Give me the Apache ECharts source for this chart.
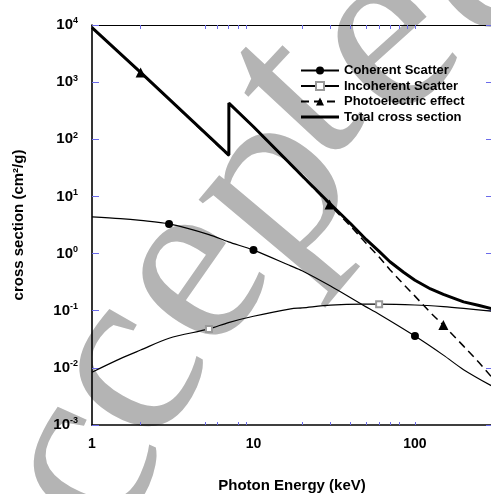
<!DOCTYPE html>
<html>
<head>
<meta charset="utf-8">
<title>Photon cross sections</title>
<style>
  html, body { margin: 0; padding: 0; background: #fff; }
  #chart { width: 491px; height: 494px; }
</style>
</head>
<body>
<div id="chart"></div>
<script src="https://cdn.jsdelivr.net/npm/echarts@6/dist/echarts.min.js"></script>
<script>
// photon energy (keV) for total / photoelectric curves, K-edge listed twice
const energyTotal = [1, 2, 7.04, 7.04, 10, 20, 29.6, 40, 50, 60, 70, 85, 100, 125, 150, 200, 250, 300];
const totalValues = [8970, 1480, 53, 430, 166, 23, 7.6, 3.33, 1.75, 1.09, 0.72, 0.47, 0.342, 0.24, 0.193, 0.143, 0.123, 0.108];
const photoValues = [8965, 1477, 51, 428, 164, 22.4, 7.2, 3.0, 1.5, 0.87, 0.52, 0.29, 0.18, 0.092, 0.056, 0.024, 0.0123, 0.0068];

// photon energy (keV) for the two scatter curves
const energyScatter = [1, 1.5, 2, 3, 5.3, 7, 10, 17, 20, 30, 47.5, 60, 100, 150, 200, 300];
const coherentValues = [4.4, 4.1, 3.8, 3.3, 2.15, 1.6, 1.15, 0.61, 0.5, 0.27, 0.126, 0.087, 0.036, 0.0167, 0.0093, 0.0048];
const incoherentValues = [0.0084, 0.0145, 0.0205, 0.033, 0.048, 0.062, 0.08, 0.108, 0.112, 0.125, 0.13, 0.13, 0.126, 0.118, 0.11, 0.098];

// energies where a marker is drawn
const coherentMarkers = [3, 10, 100];
const incoherentMarkers = [5.3, 60];
const photoMarkers = [2, 29.6, 150];

// tick labels / tick positions
const xLabelValues = [1, 10, 100];
const xBottomTicks = [2, 5, 6, 8, 9, 20, 30, 40, 50, 60, 70, 80, 100];
const xTopTicks = [2, 5, 6, 7, 8, 9, 20, 30, 40, 50, 60, 70, 80, 90, 100];
const yDecades = [0.001, 0.01, 0.1, 1, 10, 100, 1000, 10000];

const font = 'Liberation Sans, Arial, sans-serif';
const tickColor = '#6b6bea';

function withMarkers(xs, ys, marks) {
  return xs.map((e, i) => ({
    value: [e, ys[i]],
    symbol: marks.includes(e) ? undefined : 'none'
  }));
}

// watermark letters (background decoration)
const stamp = [
  ['c', 108, 478, 66],
  ['c', 152, 385, 60],
  ['e', 215, 292, 55],
  ['p', 293, 205, 50],
  ['t', 318, 118, 47],
  ['e', 405, 62, 42],
  ['d', 500, -20, 38]
];
function stampLetters() {
  return stamp.map(([ch, cx, cy, deg]) => {
    const r = deg * Math.PI / 180;
    return {
      type: 'text',
      z: -10,
      x: cx - 27 * Math.sin(r),
      y: cy - 27 * Math.cos(r),
      rotation: r,
      silent: true,
      style: {
        text: ch,
        font: '248px "Liberation Serif", serif',
        fill: '#b4b4b4',
        align: 'center',
        verticalAlign: 'middle'
      }
    };
  });
}

const chart = echarts.init(document.getElementById('chart'));

const option = {
  animation: false,
  backgroundColor: '#fff',
  graphic: stampLetters(),
  grid: { left: 92, right: -1, top: 25, bottom: 69, containLabel: false, outerBoundsMode: 'none' },
  legend: {
    orient: 'vertical',
    left: 300,
    top: 64,
    padding: 0,
    itemWidth: 38,
    itemHeight: 10,
    itemGap: 2.5,
    textStyle: { fontFamily: font, fontWeight: 'bold', fontSize: 13, color: '#000' },
    data: [
      'Coherent Scatter',
      'Incoherent Scatter',
      'Photoelectric effect',
      { name: 'Total cross section', icon: 'path://M0,0H40V3H0Z' }
    ]
  },
  xAxis: [
    {
      type: 'log', logBase: 10, min: 1, max: 300,
      name: 'Photon Energy (keV)', nameLocation: 'middle', nameGap: 53,
      nameTextStyle: { fontFamily: font, fontWeight: 'bold', fontSize: 15, color: '#000' },
      axisLine: { lineStyle: { color: '#000', width: 1.6 } },
      axisTick: { inside: true, length: 3, customValues: xBottomTicks, lineStyle: { color: tickColor } },
      axisLabel: { customValues: xLabelValues, margin: 12, fontFamily: font, fontWeight: 'bold', fontSize: 14, color: '#000' },
      splitLine: { show: false }
    },
    {
      type: 'log', logBase: 10, min: 1, max: 300, position: 'top',
      axisLine: { lineStyle: { color: '#000', width: 1.2 } },
      axisTick: { inside: true, length: 4, customValues: xTopTicks, lineStyle: { color: tickColor } },
      axisLabel: { show: false },
      splitLine: { show: false }
    }
  ],
  yAxis: [
    {
      type: 'log', logBase: 10, min: 0.001, max: 10000,
      name: 'cross section (cm²/g)', nameLocation: 'middle', nameGap: 66,
      nameTextStyle: { fontFamily: font, fontWeight: 'bold', fontSize: 15, color: '#000' },
      axisLine: { lineStyle: { color: '#000', width: 1.6 } },
      axisTick: { inside: true, length: 7, customValues: yDecades, lineStyle: { color: tickColor } },
      axisLabel: {
        customValues: yDecades,
        margin: 14,
        formatter: v => '{b|10}{s|' + Math.round(Math.log10(v)) + '}',
        rich: {
          b: { fontFamily: font, fontWeight: 'bold', fontSize: 15, color: '#000', lineHeight: 17 },
          s: { fontFamily: font, fontWeight: 'bold', fontSize: 9, color: '#000', verticalAlign: 'top', lineHeight: 9 }
        }
      },
      splitLine: { show: false }
    },
    {
      type: 'log', logBase: 10, min: 0.001, max: 10000, position: 'right',
      axisLine: { show: false },
      axisTick: { inside: true, length: 6, customValues: yDecades, lineStyle: { color: tickColor } },
      axisLabel: { show: false },
      splitLine: { show: false }
    }
  ],
  series: [
    {
      name: 'Coherent Scatter', type: 'line', smooth: 0.3,
      symbol: 'circle', symbolSize: 8,
      itemStyle: { color: '#000' },
      lineStyle: { color: '#000', width: 1.2 },
      data: withMarkers(energyScatter, coherentValues, coherentMarkers)
    },
    {
      name: 'Incoherent Scatter', type: 'line', smooth: 0.3,
      symbol: 'emptyRect', symbolSize: 6,
      itemStyle: { color: '#9a9a9a', borderWidth: 0.8 },
      lineStyle: { color: '#000', width: 1.2 },
      data: withMarkers(energyScatter, incoherentValues, incoherentMarkers)
    },
    {
      name: 'Photoelectric effect', type: 'line',
      symbol: 'triangle', symbolSize: 10,
      itemStyle: { color: '#000' },
      lineStyle: { color: '#000', width: 1.5, type: [8, 5] },
      data: withMarkers(energyTotal, photoValues, photoMarkers)
    },
    {
      name: 'Total cross section', type: 'line',
      symbol: 'none',
      itemStyle: { color: '#000' },
      lineStyle: { color: '#000', width: 3 },
      data: energyTotal.map((e, i) => [e, totalValues[i]])
    }
  ]
};

chart.setOption(option);
</script>
</body>
</html>
